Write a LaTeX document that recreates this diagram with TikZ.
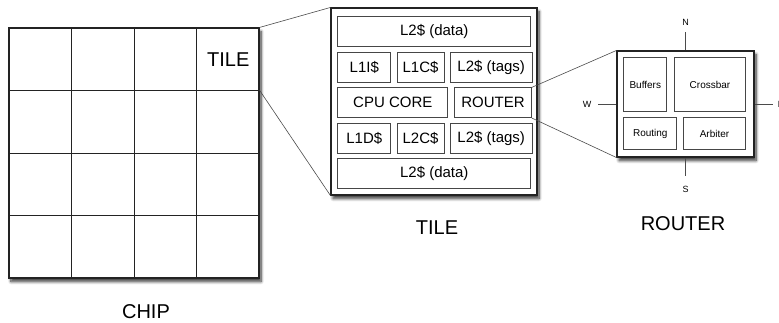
\documentclass[tikz,border=0pt]{standalone}
\usepackage{fontspec}
\setmainfont{Liberation Sans}
\usetikzlibrary{positioning,calc,shadows.blur}
\definecolor{edge}{RGB}{35,35,35}
\definecolor{thin}{RGB}{70,70,70}
\definecolor{link}{RGB}{75,75,75}
\tikzset{
  outer/.style={rectangle,draw=edge,fill=white,line width=1.1pt,inner sep=0pt,
    blur shadow={shadow xshift=2pt,shadow yshift=-3.5pt,shadow blur steps=8,
      shadow blur radius=3pt,shadow opacity=80}},
  part/.style={rectangle,draw=thin,fill=white,line width=0.7pt,inner sep=0pt,
    minimum width=#1,minimum height=30pt,font=\fontsize{15}{15}\selectfont},
  part/.default=50pt,
  rpart/.style={rectangle,draw=thin,fill=white,line width=0.7pt,inner sep=0pt,
    minimum width=#1,font=\fontsize{10}{10}\selectfont},
  rpart/.default=50pt,
  caption/.style={font=\fontsize{20}{20}\selectfont,inner sep=0pt},
  dirlab/.style={font=\fontsize{9}{9}\selectfont,inner sep=0pt},
  zoomline/.style={draw=link,line width=0.6pt},
  stub/.style={draw=link,line width=0.7pt},
}

\begin{document}
\begin{tikzpicture}[x=1pt,y=-1pt]
    \useasboundingbox (0,0) rectangle (779,323);

    % -- chip ------------------------------------------------------------------
    \node[outer,minimum width=250pt,minimum height=250pt] (chip) at (134,153) {};
    \foreach \f in {0.25,0.5,0.75} {
      \draw[edge,line width=0.8pt] ($(chip.north west)!\f!(chip.north east)$)
        -- ($(chip.south west)!\f!(chip.south east)$);
      \draw[edge,line width=0.8pt] ($(chip.north west)!\f!(chip.south west)$)
        -- ($(chip.north east)!\f!(chip.south east)$);
    }
    \node[caption] (chiptile) at ($(chip.north east)+(-31.25,32)$) {TILE};
    \node[caption] (chiplab) at (146,312) {CHIP};

    % -- tile ------------------------------------------------------------------
    \node[outer,minimum width=206pt,minimum height=187pt] (tile) at (434,101.5) {};

    \node[part=193pt,anchor=north west] (l2dtop) at ($(tile.north west)+(7,9)$) {L2\$ (data)};

    \node[part=53pt,below=4.75pt of l2dtop.south west,anchor=north west] (l1i) {L1I\$};
    \node[part=47pt,right=5.5pt of l1i]  (l1c)    {L1C\$};
    \node[part=82pt,right=5.5pt of l1c]  (l2ttop) {L2\$ (tags)};

    \node[part=110pt,below=4.75pt of l1i.south west,anchor=north west] (cpu) {CPU CORE};
    \node[part=77pt,right=6pt of cpu] (trouter) {ROUTER};

    \node[part=53pt,below=4.75pt of cpu.south west,anchor=north west] (l1d) {L1D\$};
    \node[part=47pt,right=5.5pt of l1d]  (l2c)    {L2C\$};
    \node[part=82pt,right=5.5pt of l2c]  (l2tbot) {L2\$ (tags)};

    \node[part=193pt,below=4.75pt of l1d.south west,anchor=north west] (l2dbot) {L2\$ (data)};

    \node[caption] (tilelab) at (437,228) {TILE};

    % -- router ----------------------------------------------------------------
    \node[outer,minimum width=137pt,minimum height=106pt] (router) at (685.5,104) {};

    \node[rpart=43pt,minimum height=54pt,anchor=north west] (buf) at ($(router.north west)+(7,7)$) {Buffers};
    \node[rpart=71pt,minimum height=54pt,right=7pt of buf] (xbar) {Crossbar};
    \node[rpart=53pt,minimum height=32pt,below=5pt of buf.south west,anchor=north west] (rcomp) {Routing};
    \node[rpart=62pt,minimum height=32pt,right=6pt of rcomp] (arb) {Arbiter};

    \node[caption] (routerlab) at (683,224) {ROUTER};

    % -- zoom lines ------------------------------------------------------------
    \coordinate (tilecorner) at ($(chip.north east)!0.25!(chip.south east)$);
    \draw[zoomline] (chip.north east) -- (tile.north west);
    \draw[zoomline] (tilecorner) -- (tile.south west);
    \draw[zoomline] (trouter.north east) -- (router.north west);
    \draw[zoomline] (trouter.south east) -- (router.south west);

    % -- ports -----------------------------------------------------------------
    \coordinate (nend) at ($(router.north)+(0,-18)$);
    \coordinate (send) at ($(router.south)+(0,18)$);
    \coordinate (wend) at ($(router.west)+(-18,0)$);
    \coordinate (eend) at ($(router.east)+(18,0)$);
    \draw[stub] (router.north) -- (nend);
    \draw[stub] (router.south) -- (send);
    \draw[stub] (router.west) -- (wend);
    \draw[stub] (router.east) -- (eend);
    \node[dirlab,above=7pt of nend] (nlab) {N};
    \node[dirlab,below=10pt of send] (slab) {S};
    \node[dirlab,left=7pt of wend] (wlab) {W};
    \node[dirlab,right=5pt of eend] (elab) {E};

\end{tikzpicture}
\end{document}
